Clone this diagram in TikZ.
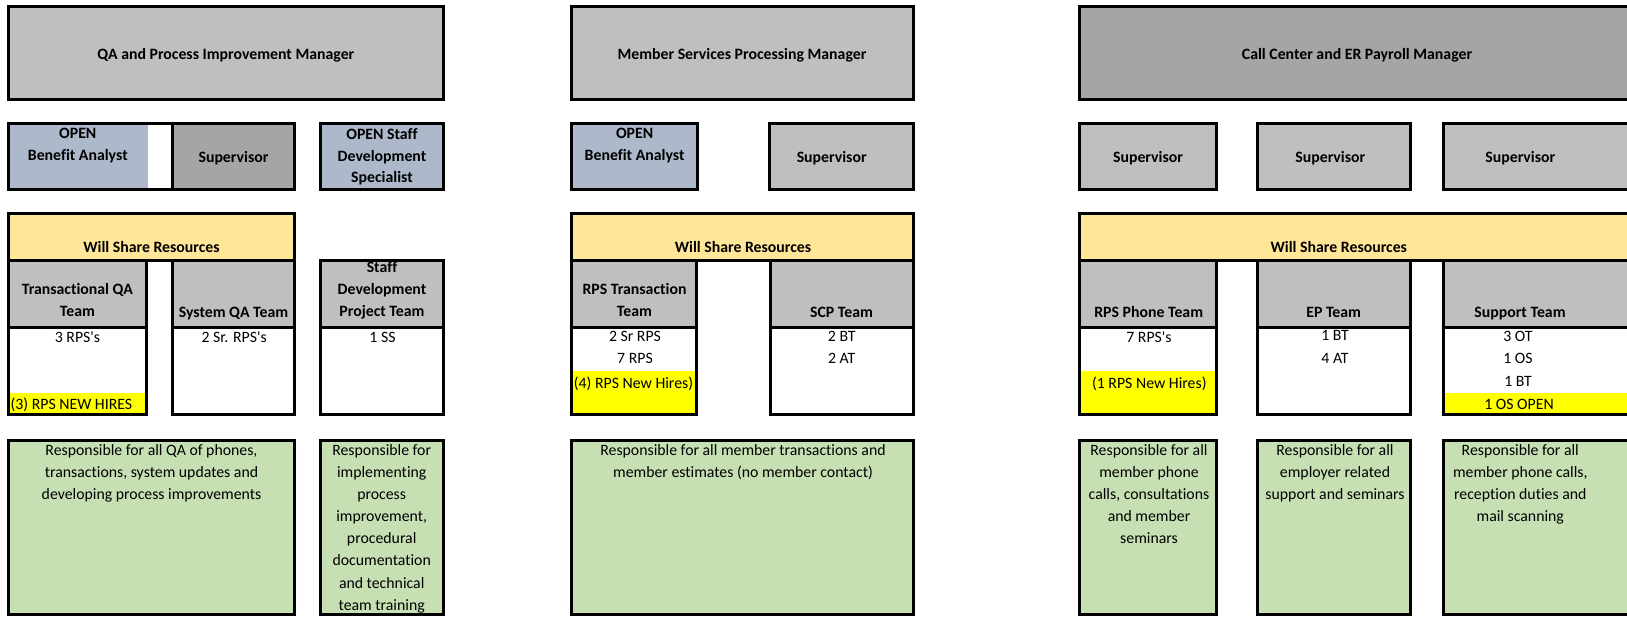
\documentclass[tikz,border=0pt]{standalone}
\usepackage{fontspec}
\setmainfont{Carlito}[Ligatures={NoCommon}]
\usetikzlibrary{fit}
\definecolor{mgray}{HTML}{BFBFBF}
\definecolor{dgray}{HTML}{A5A5A5}
\definecolor{openblue}{HTML}{ADB9CA}
\definecolor{shareyel}{HTML}{FFE699}
\definecolor{hiyel}{HTML}{FFFF00}
\definecolor{resgreen}{HTML}{C6E0B4}
\newcommand\myfsA{\fontsize{15.8}{21.7}\selectfont}
\newcommand\myfsB{\fontsize{15.8}{22.7}\selectfont}
\newcommand\myfsC{\fontsize{15.8}{22.1}\selectfont}
\newcommand\myap{\textquotesingle}
\begin{document}
\begin{tikzpicture}[x=1pt,y=-1pt,
  box/.style={draw=black, line width=3pt, inner sep=0pt, outer sep=0pt},
  fillonly/.style={draw=none, inner sep=0pt, outer sep=0pt},
  txt/.style={inner sep=0pt, outer sep=0pt, anchor=north, align=center, execute at begin node={\rule{0pt}{12pt}}},
  bt/.style={txt, font=\myfsA\bfseries},
  ct/.style={txt, font=\myfsB},
  gt/.style={txt, font=\myfsC},
]
\useasboundingbox (0,0) rectangle (1627,616);
\clip (0,0) rectangle (1627,616);
% ---------- Row 1: managers
\node[box, fill=mgray, fit={(8.2,6.2)(443.5,99.2)}] (m1) {};
\node[box, fill=mgray, fit={(571.5,6.2)(913.5,99.2)}] (m2) {};
\node[box, fill=dgray, fit={(1079.5,6.2)(1645,99.2)}] (m3) {};
% ---------- Row 2
\node[fillonly, fill=openblue, fit={(8.2,123.2)(148.3,189.2)}] (ba1) {};
\node[box, fill=dgray, fit={(172,123.2)(294.5,189.2)}] (s1) {};
\node[box, fit={(8.2,123.2)(294.5,189.2)}] (grp1) {};
\node[box, fill=openblue, fit={(320.2,123.2)(443.5,189.2)}] (sp1) {};
\node[box, fill=openblue, fit={(571.5,123.2)(697.5,189.2)}] (ba2) {};
\node[box, fill=mgray, fit={(769.2,123.2)(913.5,189.2)}] (s2) {};
\node[box, fill=mgray, fit={(1079.5,123.2)(1216.2,189.2)}] (s3) {};
\node[box, fill=mgray, fit={(1257.2,123.2)(1410.8,189.2)}] (s4) {};
\node[box, fill=mgray, fit={(1443.2,123.2)(1645,189.2)}] (s5) {};
% ---------- Row 3: shared resources, team headers, staff cells
\node[box, fill=shareyel, fit={(8.2,213.8)(294.5,260)}] (w1) {};
\node[box, fill=shareyel, fit={(571.5,213.8)(913.5,260)}] (w2) {};
\node[box, fill=shareyel, fit={(1079.5,213.8)(1645,260)}] (w3) {};
\node[box, fill=mgray, fit={(8.2,260)(146.2,327.3)}] (h1) {};
\node[box, fill=mgray, fit={(172.2,260)(294.5,327.3)}] (h2) {};
\node[box, fill=mgray, fit={(320.2,260)(443.5,327.3)}] (h3) {};
\node[box, fill=mgray, fit={(571.5,260)(696.2,327.3)}] (h4) {};
\node[box, fill=mgray, fit={(770,260)(913.5,327.3)}] (h5) {};
\node[box, fill=mgray, fit={(1079.5,260)(1216.2,327.3)}] (h6) {};
\node[box, fill=mgray, fit={(1257.2,260)(1410.8,327.3)}] (h7) {};
\node[box, fill=mgray, fit={(1443.8,260)(1645,327.3)}] (h8) {};
\node[fillonly, fill=hiyel, fit={(8.2,392.7)(146.2,414.5)}] (y1) {};
\node[fillonly, fill=hiyel, fit={(571.5,371)(696.2,414.5)}] (y4) {};
\node[fillonly, fill=hiyel, fit={(1079.5,371)(1216.2,414.5)}] (y6) {};
\node[fillonly, fill=hiyel, fit={(1443.8,392.7)(1645,414.5)}] (y8) {};
\node[box, fit={(8.2,327.3)(146.2,414.5)}] (c1) {};
\node[box, fit={(172.2,327.3)(294.5,414.5)}] (c2) {};
\node[box, fit={(320.2,327.3)(443.5,414.5)}] (c3) {};
\node[box, fit={(571.5,327.3)(696.2,414.5)}] (c4) {};
\node[box, fit={(770,327.3)(913.5,414.5)}] (c5) {};
\node[box, fit={(1079.5,327.3)(1216.2,414.5)}] (c6) {};
\node[box, fit={(1257.2,327.3)(1410.8,414.5)}] (c7) {};
\node[box, fit={(1443.8,327.3)(1645,414.5)}] (c8) {};
% ---------- Row 4: responsibilities
\node[box, fill=resgreen, fit={(8.2,440.5)(294.5,614.5)}] (g1) {};
\node[box, fill=resgreen, fit={(320.2,440.5)(443.5,614.5)}] (g2) {};
\node[box, fill=resgreen, fit={(571.5,440.5)(913.5,614.5)}] (g3) {};
\node[box, fill=resgreen, fit={(1079.5,440.5)(1216.2,614.5)}] (g4) {};
\node[box, fill=resgreen, fit={(1257.2,440.5)(1410.8,614.5)}] (g5) {};
\node[box, fill=resgreen, fit={(1443.8,440.5)(1645,614.5)}] (g6) {};
% ---------- texts
\node[bt] (tm1) at (225.8,47) {QA and Process Improvement Manager};
\node[bt] (tm2) at (742,47) {Member Services Processing Manager};
\node[bt] (tm3) at (1357,47) {Call Center and ER Payroll Manager};
\node[bt] (tba1) at (77.8,128.5) {OPEN\\Benefit Analyst};
\node[bt] (ts1) at (233.5,150.2) {Supervisor};
\node[bt] (tsp1) at (382,128.5) {OPEN Staff\\Development\\Specialist};
\node[bt] (tba2) at (634.6,128.5) {OPEN\\Benefit Analyst};
\node[bt] (ts2) at (831.7,150.2) {Supervisor};
\node[bt] (ts3) at (1148,150.2) {Supervisor};
\node[bt] (ts4) at (1330.3,150.2) {Supervisor};
\node[bt] (ts5) at (1520.3,150.2) {Supervisor};
\node[bt] (tw1) at (151.5,240.2) {Will Share Resources};
\node[bt] (tw2) at (743,240.2) {Will Share Resources};
\node[bt] (tw3) at (1338.8,240.2) {Will Share Resources};
\node[bt] (th1) at (77.4,283.5) {Transactional QA\\Team};
\node[bt] (th2) at (233.5,305.2) {System QA Team};
\node[bt] (th3) at (382,261.8) {Staff\\Development\\Project Team};
\node[bt] (th4) at (634.5,283.5) {RPS Transaction\\Team};
\node[bt] (th5) at (841.5,305.2) {SCP Team};
\node[bt] (th6) at (1148.7,305.2) {RPS Phone Team};
\node[bt] (th7) at (1333.7,305.2) {EP Team};
\node[bt] (th8) at (1520,305.2) {Support Team};
\node[ct] (tc1) at (77.5,330.8) {3 RPS\myap s};
\node[ct, anchor=north west] (ty1) at (10.7,397.5) {(3) RPS NEW HIRES};
\node[ct] (tc2) at (234.2,330.8) {2 Sr. RPS\myap s};
\node[ct] (tc3) at (382.5,330.8) {1 SS};
\node[ct] (tc4) at (635,330.8) {2 Sr RPS\\7 RPS};
\node[ct] (ty4) at (633.5,376.2) {(4) RPS New Hires)};
\node[ct] (tc5) at (841.7,330.8) {2 BT\\2 AT};
\node[ct] (tc6) at (1149,330.8) {7 RPS\myap s};
\node[ct] (ty6) at (1149.3,376.2) {(1 RPS New Hires)};
\node[ct] (tc7) at (1335,330.8) {1 BT\\4 AT};
\node[ct] (tc8) at (1518,330.8) {3 OT\\1 OS\\1 BT};
\node[ct] (ty8) at (1519,397.5) {1 OS OPEN};
\node[gt] (tg1) at (151.5,444.5) {Responsible for all QA of phones,\\transactions, system updates and\\developing process improvements};
\node[gt] (tg2) at (381.7,444.5) {Responsible for\\implementing\\process\\improvement,\\procedural\\documentation\\and technical\\team training};
\node[gt] (tg3) at (743,444.5) {Responsible for all member transactions and\\member estimates (no member contact)};
\node[gt] (tg4) at (1149,444.5) {Responsible for all\\member phone\\calls, consultations\\and member\\seminars};
\node[gt] (tg5) at (1335,444.5) {Responsible for all\\employer related\\support and seminars};
\node[gt] (tg6) at (1520.3,444.5) {Responsible for all\\member phone calls,\\reception duties and\\mail scanning};
\end{tikzpicture}
\end{document}
